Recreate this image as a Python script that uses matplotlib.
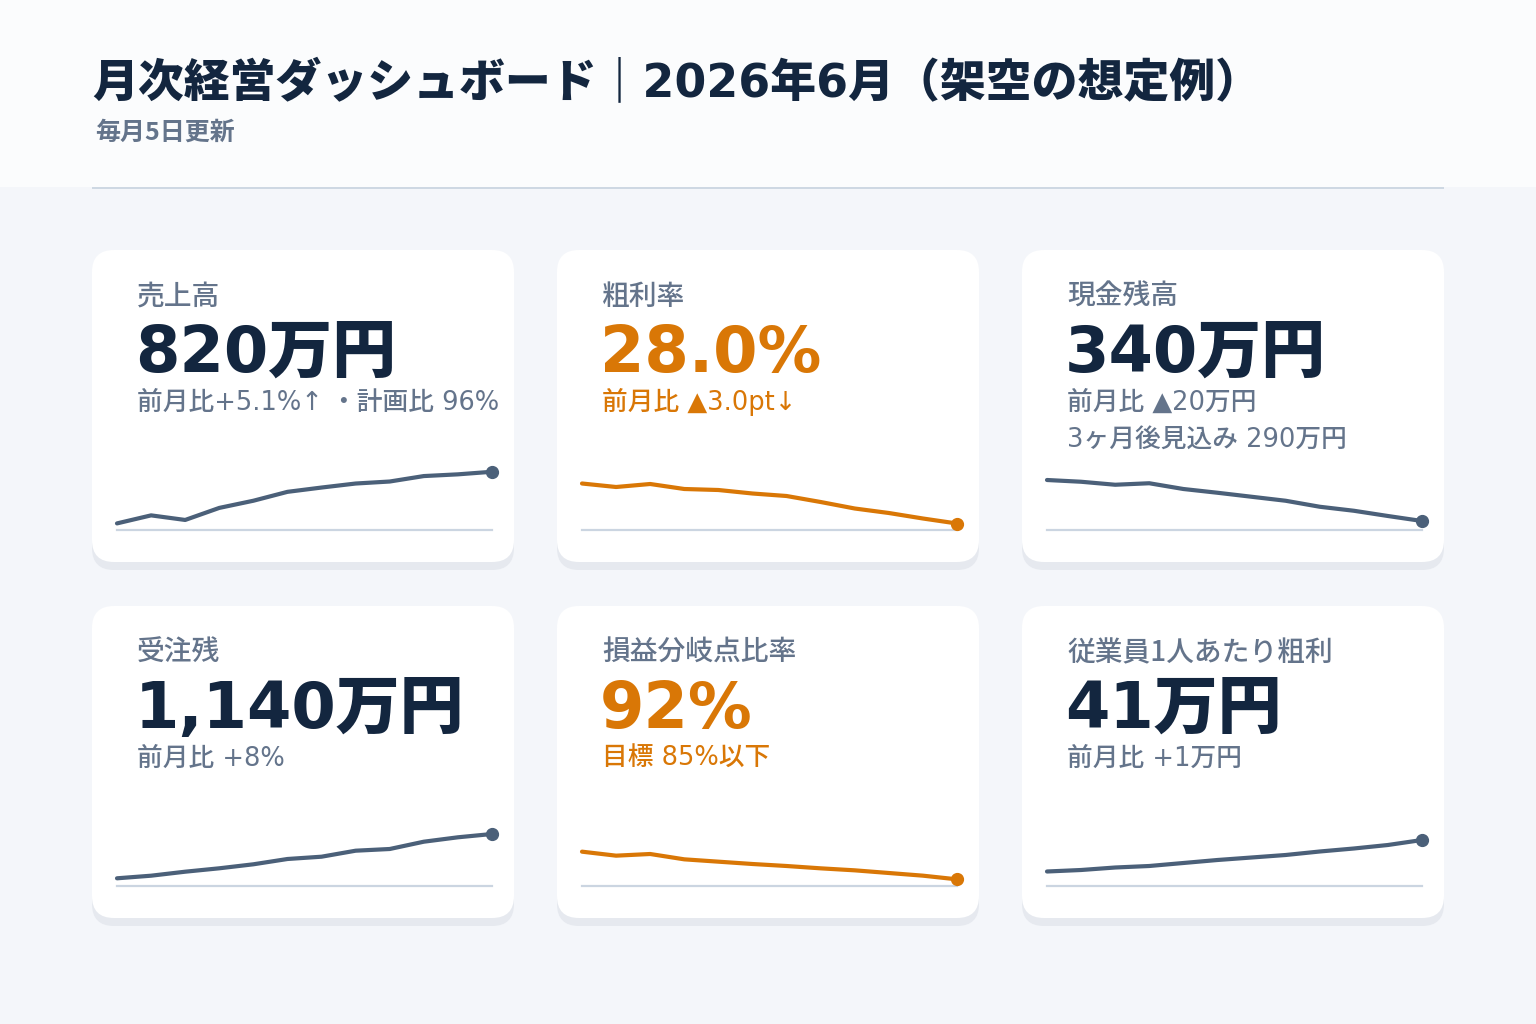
import matplotlib
matplotlib.use('Agg')
import matplotlib.pyplot as plt
from matplotlib.patches import FancyBboxPatch, Rectangle

plt.rcParams['font.family'] = ['Noto Sans CJK JP', 'DejaVu Sans']
# wide latin digits first, CJK glyphs fall through to Noto
MIXED = ['DejaVu Sans', 'Noto Sans CJK JP']

W, H = 1536, 1024

TITLE = '月次経営ダッシュボード｜2026年6月（架空の想定例）'
SUBTITLE = '毎月5日更新'

# KPI cards, left to right, top to bottom
LABELS = ['売上高', '粗利率', '現金残高', '受注残', '損益分岐点比率', '従業員1人あたり粗利']
VALUES = ['820万円', '28.0%', '340万円', '1,140万円', '92%', '41万円']
NOTES = [
    ['前月比+5.1%↑ ・計画比 96%'],
    ['前月比 ▲3.0pt↓'],
    ['前月比 ▲20万円', '3ヶ月後見込み 290万円'],
    ['前月比 +8%'],
    ['目標 85%以下'],
    ['前月比 +1万円'],
]
ALERT = [False, True, False, False, True, False]

# 12-month trend per card
SALES = [640, 668, 652, 694, 719, 750, 765, 779, 786, 805, 811, 820]
GROSS_MARGIN = [36.0, 35.3, 35.9, 34.9, 34.7, 34.0, 33.5, 32.3, 31.0, 30.1, 29.0, 28.0]
CASH = [504, 497, 485, 491, 468, 453, 437, 421, 397, 381, 360, 340]
BACKLOG = [697, 723, 763, 797, 837, 890, 913, 973, 990, 1063, 1107, 1140]
BREAKEVEN = [100.3, 99.1, 99.6, 98.0, 97.3, 96.6, 96.0, 95.3, 94.7, 93.9, 93.1, 92.0]
PER_HEAD = [34.7, 35.0, 35.5, 35.8, 36.4, 37.0, 37.5, 38.0, 38.7, 39.3, 40.0, 41.0]
TRENDS = [SALES, GROSS_MARGIN, CASH, BACKLOG, BREAKEVEN, PER_HEAD]
# y-axis domain of each sparkline
Y_RANGE = [(617, 861), (26.7, 40.7), (304, 584), (620, 1320), (90, 111), (31.8, 45.8)]

NAVY = '#13263f'
SLATE = '#64748b'
LINE = '#4b6079'
ORANGE = '#d97706'
RULE = '#cbd5e1'

fig = plt.figure(figsize=(W / 100, H / 100), dpi=100)
fig.patch.set_facecolor('#f4f6fa')

# overlay in pixel coordinates
bg = fig.add_axes([0, 0, 1, 1])
bg.set_xlim(0, W)
bg.set_ylim(H, 0)
bg.axis('off')

# header band
bg.add_patch(Rectangle((0, 0), W, 187, facecolor='#fbfcfd', edgecolor='none'))
bg.plot([92, 1444], [187.5, 187.5], color=RULE, lw=1.3, solid_capstyle='butt')
bg.text(92, 97, TITLE, fontsize=33, fontweight='heavy', color=NAVY, va='baseline',
        family=MIXED)
bg.text(95, 140, SUBTITLE, fontsize=18, fontweight='bold', color=SLATE, va='baseline')

card_x = [92, 557, 1022]
card_y = [250, 606]
card_w, card_h = 422, 312

for i in range(6):
    cx = card_x[i % 3]
    cy = card_y[i // 3]
    # shadow + card
    bg.add_patch(FancyBboxPatch((cx, cy + 8), card_w, card_h, boxstyle='round,pad=0,rounding_size=22',
                                facecolor='#e6e9ef', edgecolor='none'))
    bg.add_patch(FancyBboxPatch((cx, cy), card_w, card_h, boxstyle='round,pad=0,rounding_size=22',
                                facecolor='white', edgecolor='none'))

    accent = ORANGE if ALERT[i] else NAVY
    sub_col = ORANGE if ALERT[i] else SLATE
    tx = cx + 45
    bg.text(tx, cy + 55, LABELS[i], fontsize=20, fontweight='medium', color=SLATE, va='baseline')
    bg.text(tx - 2, cy + 122, VALUES[i], fontsize=46, fontweight='heavy', color=accent,
            va='baseline', family=MIXED)
    for k, note in enumerate(NOTES[i]):
        bg.text(tx, cy + 160 + 37 * k, note, fontsize=18.5, fontweight='medium',
                color=sub_col, va='baseline', family=MIXED)

    # sparkline
    sx, stop, sbot = cx + 25, cy + 210, cy + 280
    ax = fig.add_axes([sx / W, 1 - sbot / H, 375 / W, (sbot - stop) / H])
    ax.axis('off')
    ax.set_xlim(0, len(TRENDS[i]) - 1)
    ax.set_ylim(*Y_RANGE[i])
    line_col = ORANGE if ALERT[i] else LINE
    ax.axhline(Y_RANGE[i][0], color=RULE, lw=1.6, clip_on=False)
    xs = range(len(TRENDS[i]))
    ax.plot(xs, TRENDS[i], color=line_col, lw=3, solid_capstyle='round',
            solid_joinstyle='round', clip_on=False)
    ax.plot(xs[-1], TRENDS[i][-1], 'o', color=line_col, ms=8.5, clip_on=False)

fig.savefig('out.png', dpi=100)
